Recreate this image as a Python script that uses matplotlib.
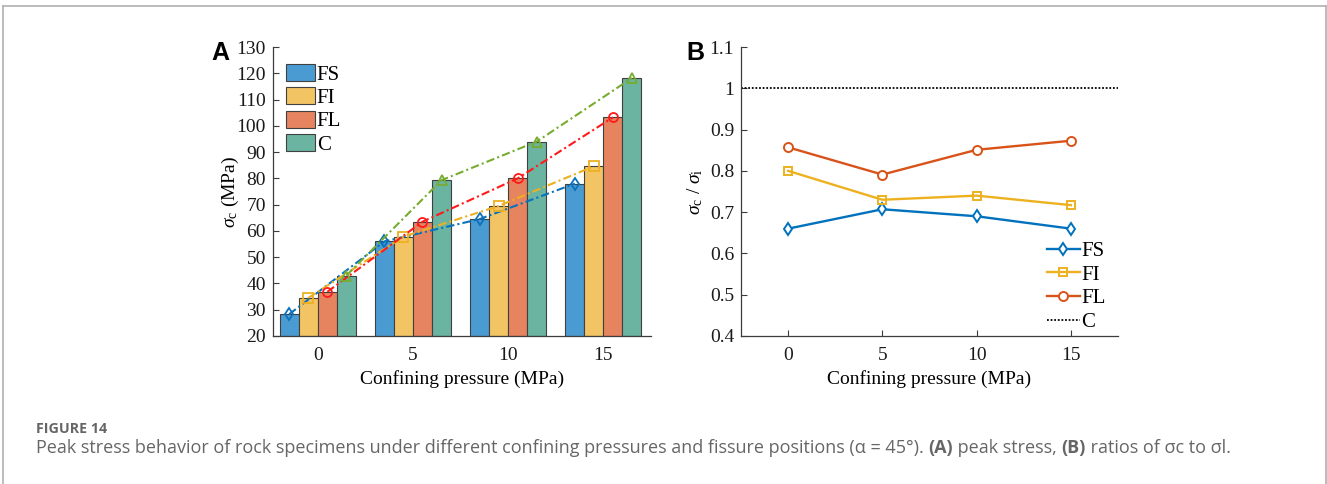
import numpy as np
import matplotlib
matplotlib.use("Agg")
import matplotlib.pyplot as plt
from matplotlib.lines import Line2D

# peak stress data (MPa) per confining pressure
pressures = [0, 5, 10, 15]
series = ["FS", "FI", "FL", "C"]
peak_fs = [28.3, 56.0, 64.5, 78.0]
peak_fi = [34.5, 57.8, 69.5, 84.6]
peak_fl = [36.8, 63.5, 80.0, 103.2]
peak_c = [43.0, 79.3, 94.0, 118.2]

# ratio sigma_c / sigma_i
ratio_fs = [0.660, 0.707, 0.690, 0.660]
ratio_fi = [0.800, 0.730, 0.740, 0.717]
ratio_fl = [0.857, 0.791, 0.851, 0.873]
ratio_c = 1.0

plt.rcParams["font.family"] = ["Liberation Serif", "DejaVu Serif"]
plt.rcParams["mathtext.fontset"] = "custom"
plt.rcParams["mathtext.rm"] = "Liberation Serif"
plt.rcParams["mathtext.it"] = "Liberation Serif:italic"

axis_col = "#3c3c3c"
bar_cols = ["#4b9bd3", "#f2c464", "#e5845f", "#6bb4a1"]
line_cols = ["#0a72bd", "#edb120", "#ff1a1a", "#77ac30"]
markers = ["d", "s", "o", "^"]

fig = plt.figure(figsize=(13.27, 4.84), dpi=100)

def style_axes(ax):
    for s in ["top", "right"]:
        ax.spines[s].set_visible(False)
    for s in ["left", "bottom"]:
        ax.spines[s].set_color(axis_col)
        ax.spines[s].set_linewidth(0.9)
    ax.tick_params(direction="in", length=4, width=0.8, colors=axis_col,
                   labelcolor="#1a1a1a", labelsize=14, pad=5)

# ---- (A) peak stress bars ----
axA = fig.add_axes([273 / 1327, 1 - 336 / 484, 378 / 1327, 289 / 484])
style_axes(axA)
idx = np.arange(len(pressures))
width = 0.2
peaks = [peak_fs, peak_fi, peak_fl, peak_c]
for k, (name, vals) in enumerate(zip(series, peaks)):
    off = (k - 1.5) * width
    axA.bar(idx + off, np.array(vals) - 20, width, bottom=20, color=bar_cols[k],
            edgecolor="#404040", linewidth=0.8, label=name, zorder=2)
for k, vals in enumerate(peaks):
    off = (k - 1.5) * width
    axA.plot(idx + off, vals, linestyle=(0, (4, 1.5, 1, 1.5)), color=line_cols[k],
             lw=1.5, marker=markers[k], ms=6.5 if k != 3 else 7, mfc="none",
             mec=line_cols[k], mew=1.3, zorder=3)
axA.set_xlim(-0.47, 3.5)
axA.set_ylim(20, 130)
axA.set_yticks(np.arange(20, 131, 10))
axA.set_xticks(idx)
axA.set_xticklabels([str(p) for p in pressures])
axA.tick_params(axis="x", pad=8)
axA.set_xlabel("Confining pressure (MPa)", fontsize=14, labelpad=4)
axA.set_ylabel(r"$\it{\sigma}_{\rm c}$ (MPa)", fontsize=14, labelpad=-3)
legA = axA.legend(loc="upper left", bbox_to_anchor=(0.0, 0.985), frameon=False,
                  fontsize=15, handlelength=1.4, handleheight=0.88,
                  handletextpad=0.1, labelspacing=0.13, borderaxespad=0.2)
for p in legA.get_patches():
    p.set_edgecolor("#404040")

# ---- (B) ratio lines ----
axB = fig.add_axes([741 / 1327, 1 - 336 / 484, 377 / 1327, 289 / 484])
style_axes(axB)
ratio_cols = ["#0072bd", "#edb120", "#d95319"]
ratios = [ratio_fs, ratio_fi, ratio_fl]
for k, vals in enumerate(ratios):
    axB.plot(pressures, vals, color=ratio_cols[k], lw=1.7, marker=markers[k],
             ms=6.5 if k != 1 else 5.5, mfc="white" if k != 1 else "none",
             mec=ratio_cols[k], mew=1.4, label=series[k], zorder=3)
axB.axhline(ratio_c, color="black", lw=1.3, linestyle=(0, (1, 1)), label="C")
axB.set_xlim(-2.5, 17.5)
axB.set_ylim(0.4, 1.1)
axB.set_xticks(pressures)
axB.set_yticks(np.round(np.arange(0.4, 1.101, 0.1), 1))
axB.set_yticklabels(["0.4", "0.5", "0.6", "0.7", "0.8", "0.9", "1", "1.1"])
axB.tick_params(axis="x", pad=8)
axB.set_xlabel("Confining pressure (MPa)", fontsize=14, labelpad=4)
axB.set_ylabel(r"$\it{\sigma}_{\rm c}$ / $\it{\sigma}_{\rm i}$", fontsize=14, labelpad=3)
axB.legend(loc="lower right", bbox_to_anchor=(1.0, -0.03), frameon=False,
           fontsize=15, handlelength=1.6, handletextpad=0.05, labelspacing=0.2,
           borderaxespad=0.2)

# panel letters
fig.text(211 / 1327, 1 - 60 / 484, "A", fontsize=18, fontweight="bold",
         family="Liberation Sans")
fig.text(686 / 1327, 1 - 60 / 484, "B", fontsize=18, fontweight="bold",
         family="Liberation Sans")

# caption
cap_col = "#666666"
fig.text(36 / 1327, 1 - 433 / 484, "FIGURE 14", fontsize=10.3, fontweight="bold",
         color=cap_col, family="Open Sans")
pieces = [
    ("Peak stress behavior of rock specimens under different confining pressures "
     "and fissure positions (\u03b1 = 45\u00b0). ", "normal"),
    ("(A)", "bold"),
    (" peak stress, ", "normal"),
    ("(B)", "bold"),
    (" ratios of \u03c3c to \u03c3l.", "normal"),
]
fig.canvas.draw()
renderer = fig.canvas.get_renderer()
x = 36.0
for txt, w in pieces:
    t = fig.text(x / 1327, 1 - 453 / 484, txt, fontsize=13.0, fontweight=w,
                 color=cap_col, family="Open Sans")
    x += t.get_window_extent(renderer).width

# outer frame
frame_col = "#b0b0b0"
fx0, fx1, fy0 = 3.5 / 1327, 1325.5 / 1327, 1 - 6 / 484
fig.add_artist(Line2D([fx0, fx0], [0, fy0], color=frame_col, lw=1.2))
fig.add_artist(Line2D([fx1, fx1], [0, fy0], color=frame_col, lw=1.2))
fig.add_artist(Line2D([fx0, fx1], [fy0, fy0], color=frame_col, lw=1.2))

fig.savefig("out.png", dpi=100)
